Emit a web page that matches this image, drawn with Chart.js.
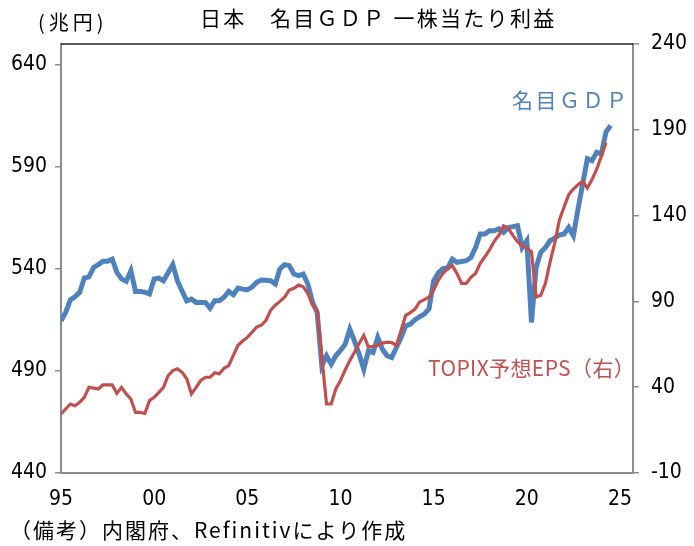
<!DOCTYPE html>
<html>
<head>
<meta charset="utf-8">
<script src="https://cdn.jsdelivr.net/npm/chart.js@4.4.1/dist/chart.umd.min.js"></script>
<style>
  html, body { margin: 0; padding: 0; background: #fff; }
  #wrap { position: relative; width: 694px; height: 546px; }
  #c { position: absolute; left: 0; top: 0; }
  .txt { position: absolute; white-space: nowrap; font-family: "Noto Sans CJK JP", sans-serif; line-height: 1; }
</style>
</head>
<body>
<div id="wrap">
  <canvas id="c" width="694" height="546"></canvas>
  <div class="txt" id="title" style="left:200px; top:7px; font-size:21px; letter-spacing:2.3px;">日本　名目ＧＤＰ 一株当たり利益</div>
  <div class="txt" id="unit" style="left:38px; top:12px; font-size:20px; letter-spacing:4px;">(兆円)</div>
  <div class="txt" id="note" style="left:10px; top:519px; font-size:21px; letter-spacing:2px;">（備考）内閣府、Refinitivにより作成</div>
  <div class="txt" id="lblGdp" style="left:512px; top:89px; font-size:21px; letter-spacing:2.5px; color:#4F81BD;">名目ＧＤＰ</div>
  <div class="txt" id="lblEps" style="left:428px; top:357px; font-size:21px; letter-spacing:0.4px; color:#C0504D;">TOPIX予想EPS（右）</div>
</div>
<script>
// quarterly, 1995Q1 onward
const gdp = [
  514.5, 518.6, 524.7, 526.3, 528.4, 535.4, 536.0, 540.6, 542.0, 543.6,
  543.6, 544.7, 538.2, 535.0, 533.8, 539.0, 528.9, 528.9, 528.5, 527.6,
  535.0, 535.4, 534.1, 538.0, 542.0, 534.1, 529.0, 524.3, 525.1, 523.5,
  523.5, 523.5, 520.7, 524.3, 524.3, 526.0, 528.9, 527.3, 530.5, 530.0,
  529.7, 531.0, 533.3, 534.5, 534.3, 534.1, 532.5, 539.9, 542.0, 541.5,
  537.4, 536.6, 537.4, 532.5, 523.5, 518.6, 492.5, 497.4, 493.3, 497.4,
  500.0, 503.0, 510.4, 504.7, 498.2, 490.8, 499.8, 499.0, 506.3, 500.6,
  497.4, 496.5, 501.4, 506.3, 512.0, 512.9, 515.0, 516.5, 517.8, 520.3,
  534.1, 538.0, 540.0, 540.3, 544.7, 543.1, 543.5, 543.9, 545.5, 550.4,
  557.0, 557.0, 558.6, 558.6, 559.5, 557.8, 560.2, 560.6, 561.1, 550.4,
  553.7, 513.7, 540.6, 548.0, 550.4, 553.7, 555.0, 556.5, 557.0, 560.2,
  556.2, 569.3, 581.5, 593.8, 592.9, 597.0, 596.2, 606.9, 610.1
];
const eps = [
  24.4, 27.3, 30.2, 29.2, 31.2, 34.1, 39.9, 39.5, 39.0, 41.3,
  41.3, 41.3, 36.4, 39.9, 36.1, 33.1, 25.3, 25.3, 24.7, 32.2,
  34.1, 37.0, 39.9, 46.8, 49.7, 50.7, 48.7, 44.9, 36.1, 39.9,
  43.9, 45.8, 45.8, 48.4, 47.8, 51.0, 52.6, 58.5, 64.4, 66.9,
  69.0, 72.0, 75.0, 76.1, 79.0, 84.8, 87.8, 90.0, 92.5, 96.6,
  97.6, 99.5, 98.5, 94.6, 87.8, 84.8, 57.5, 30.2, 30.2, 39.0,
  43.9, 50.0, 55.5, 60.4, 65.5, 70.2, 63.4, 63.8, 64.5, 65.7,
  66.3, 66.0, 64.4, 73.0, 81.9, 83.5, 85.5, 89.7, 91.0, 92.5,
  96.5, 102.4, 106.3, 109.0, 111.0, 106.3, 100.5, 100.5, 104.0, 106.3,
  112.2, 116.0, 120.0, 125.0, 128.5, 134.0, 132.7, 128.5, 124.8, 122.5,
  121.0, 119.0, 92.6, 93.6, 100.5, 113.0, 124.0, 137.5, 145.0, 152.2,
  155.5, 158.0, 160.0, 156.1, 161.0, 167.0, 174.6, 182.4
];
const startYear = 1995;
const xTicks = [1995, 2000, 2005, 2010, 2015, 2020, 2025];
const xLabels = ['95', '00', '05', '10', '15', '20', '25'];
const leftTicks = [440, 490, 540, 590, 640];
const rightTicks = [-10, 40, 90, 140, 190, 240];

const toPts = arr => arr.map((v, i) => ({ x: startYear + i / 4, y: v }));

const axisGray = '#8c8c8c';
const tickFont = { family: '"Liberation Sans Narrow", "DejaVu Sans Condensed", sans-serif', size: 21 };

const topLine = {
  id: 'topLine',
  afterDatasetsDraw(chart) {
    const { ctx, chartArea: a } = chart;
    ctx.save();
    ctx.strokeStyle = '#222';
    ctx.lineWidth = 1.5;
    ctx.beginPath();
    ctx.moveTo(a.left, a.top);
    ctx.lineTo(a.right, a.top);
    ctx.stroke();
    ctx.restore();
  }
};

new Chart(document.getElementById('c'), {
  type: 'line',
  data: {
    datasets: [
      { label: 'TOPIX予想EPS（右）', data: toPts(eps), yAxisID: 'y2', borderColor: '#C0504D', borderWidth: 3.2, pointRadius: 0, tension: 0 },
      { label: '名目ＧＤＰ', data: toPts(gdp), yAxisID: 'y', borderColor: '#4F81BD', borderWidth: 5, pointRadius: 0, tension: 0, order: 1 }
    ]
  },
  options: {
    responsive: false,
    animation: false,
    devicePixelRatio: 1,
    layout: { padding: { top: 44, left: 0, right: 0, bottom: 0 } },
    plugins: { legend: { display: false }, tooltip: { enabled: false } },
    scales: {
      x: {
        type: 'linear', min: 1995, max: 2025.7,
        afterBuildTicks: s => { s.ticks = xTicks.map(v => ({ value: v })); },
        afterFit: s => { s.height = 73; },
        grid: { display: false, drawTicks: false },
        border: { display: true, color: axisGray, width: 2 },
        ticks: { color: '#000', font: tickFont, padding: 14, maxRotation: 0, autoSkip: false,
                 callback: v => xLabels[xTicks.indexOf(v)] }
      },
      y: {
        position: 'left', min: 440, max: 650,
        afterBuildTicks: s => { s.ticks = leftTicks.map(v => ({ value: v })); },
        afterFit: s => { s.width = 61; },
        grid: { drawOnChartArea: false, color: axisGray, lineWidth: 1.5, tickLength: 6 },
        border: { display: true, color: axisGray, width: 2 },
        ticks: { color: '#000', font: tickFont, padding: 8 }
      },
      y2: {
        position: 'right', min: -10, max: 240,
        afterBuildTicks: s => { s.ticks = rightTicks.map(v => ({ value: v })); },
        afterFit: s => { s.width = 61; },
        grid: { drawOnChartArea: false, color: axisGray, lineWidth: 1.5, tickLength: 6 },
        border: { display: true, color: axisGray, width: 2 },
        ticks: { color: '#000', font: tickFont, padding: 12 }
      }
    }
  },
  plugins: [topLine]
});
</script>
</body>
</html>
